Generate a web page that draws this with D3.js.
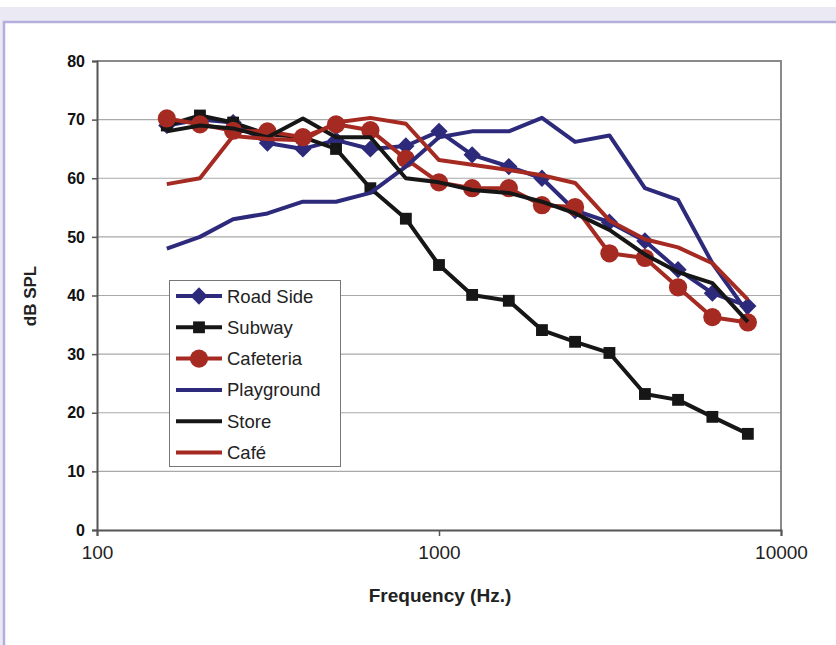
<!DOCTYPE html>
<html><head><meta charset="utf-8">
<script src="https://cdn.jsdelivr.net/npm/d3@7"></script>
<style>
html,body{margin:0;padding:0;background:#fff;}
svg{display:block;}
</style></head>
<body>
<svg id="c" width="836" height="645"></svg>
<script>
const freqs = [160,200,250,315,400,500,630,800,1000,1250,1600,2000,2500,3150,4000,5000,6300,8000];
const roadSide   = [69,70,69.5,66,65,66.5,65,65.5,68,64,62,60,54.5,52.5,49.3,44.4,40.4,38.2];
const subway     = [69,70.7,69.5,67.5,67,65,58.3,53.1,45.2,40.1,39.1,34.1,32.1,30.2,23.2,22.2,19.3,16.4];
const cafeteria  = [70.2,69.2,68.1,68,67,69.2,68.2,63.3,59.3,58.3,58.3,55.4,55.1,47.2,46.4,41.4,36.3,35.4];
const playground = [48,50,53,54,56,56,57.5,62,67,68,68,70.3,66.2,67.3,58.3,56.3,45.5,37];
const store      = [68,69,68.5,67,70.2,67,67,60,59.3,58,57.5,56,54,51.2,47,44,42.1,35.5];
const cafe       = [59,60,67.2,66.7,66.5,69.5,70.3,69.3,63.1,62.3,61.4,60.5,59.2,52.8,49.6,48.2,45.5,39.3];
const seriesNames = ["Road Side","Subway","Cafeteria","Playground","Store","Café"];
const yTicks = [0,10,20,30,40,50,60,70,80];
const xTicks = [100,1000,10000];

const navy = "#2d2a7c", black = "#161616", red = "#a52a22";
const series = [
  {name:seriesNames[0], values:roadSide,   color:navy,  marker:"diamond"},
  {name:seriesNames[1], values:subway,     color:black, marker:"square"},
  {name:seriesNames[2], values:cafeteria,  color:red,   marker:"circle"},
  {name:seriesNames[3], values:playground, color:navy,  marker:null},
  {name:seriesNames[4], values:store,      color:black, marker:null},
  {name:seriesNames[5], values:cafe,       color:red,   marker:null}
];

const svg = d3.select("#c");
svg.append("rect").attr("x",0).attr("y",0).attr("width",836).attr("height",645).attr("fill","#fff");
svg.append("rect").attr("x",0).attr("y",7).attr("width",836).attr("height",638).attr("fill","#eae9f4");
svg.append("rect").attr("x",4).attr("y",22).attr("width",840).attr("height",640)
  .attr("fill","#fff").attr("stroke","#b3aedb").attr("stroke-width",2.5);

const L=97, R=781, T=61, B=530;
const x = d3.scaleLog().domain([100,10000]).range([L,R]);
const y = d3.scaleLinear().domain([0,80]).range([B,T]);

svg.append("g").selectAll("line").data(yTicks.filter(v=>v>0 && v<80)).join("line")
  .attr("x1",L).attr("x2",R).attr("y1",d=>y(d)).attr("y2",d=>y(d))
  .attr("stroke","#a9a9a9").attr("stroke-width",1.2);
svg.append("path").attr("d",`M${L},${y(80)}H${R}V${B}`).attr("fill","none")
  .attr("stroke","#8a8a8a").attr("stroke-width",2);

const yAxis = d3.axisLeft(y).tickValues(yTicks).tickSize(5).tickPadding(7).tickFormat(d3.format("d"));
const gy = svg.append("g").attr("transform",`translate(${L},0)`).call(yAxis);
gy.select(".domain").attr("stroke","#555").attr("stroke-width",2);
gy.selectAll(".tick line").attr("stroke","#555").attr("stroke-width",1.5);
gy.selectAll("text").attr("font-family","Liberation Sans, Arial, sans-serif")
  .attr("font-size",16).attr("font-weight","bold").attr("fill","#111");

const xAxis = d3.axisBottom(x).tickValues(xTicks).tickSize(6).tickPadding(10).tickFormat(d3.format("d"));
const gx = svg.append("g").attr("transform",`translate(0,${B})`).call(xAxis);
gx.select(".domain").attr("stroke","#555").attr("stroke-width",2);
gx.selectAll(".tick line").attr("stroke","#555").attr("stroke-width",1.5);
gx.selectAll("text").attr("font-family","Liberation Sans, Arial, sans-serif")
  .attr("font-size",19).attr("fill","#222");

svg.append("text").attr("x",440).attr("y",602).attr("text-anchor","middle")
  .attr("font-family","Liberation Sans, Arial, sans-serif").attr("font-size",19)
  .attr("font-weight","bold").attr("fill","#222").text("Frequency (Hz.)");
svg.append("text").attr("transform","translate(36,296) rotate(-90)").attr("text-anchor","middle")
  .attr("font-family","Liberation Sans, Arial, sans-serif").attr("font-size",17)
  .attr("font-weight","bold").attr("fill","#222").text("dB SPL");

const line = d3.line().x((d,i)=>x(freqs[i])).y(d=>y(d));
const symbolFor = m => m==="diamond" ? d3.symbol().type(d3.symbolDiamond2).size(190)
                   : m==="square" ? d3.symbol().type(d3.symbolSquare).size(140)
                   : d3.symbol().type(d3.symbolCircle).size(260);

const plot = svg.append("g");
series.forEach(s=>{
  const g = plot.append("g");
  g.append("path").attr("d",line(s.values)).attr("fill","none")
    .attr("stroke",s.color).attr("stroke-width",4).attr("stroke-linejoin","round");
  if(s.marker){
    g.selectAll("path.m").data(s.values).join("path").attr("class","m")
      .attr("d",symbolFor(s.marker)())
      .attr("transform",(d,i)=>`translate(${x(freqs[i])},${y(d)})`)
      .attr("fill",s.color);
  }
});

const lg = svg.append("g");
lg.append("rect").attr("x",169.5).attr("y",280.5).attr("width",171).attr("height",186)
  .attr("fill","#fff").attr("stroke","#777").attr("stroke-width",1);
series.forEach((s,i)=>{
  const cy = 296 + i*31.3;
  lg.append("line").attr("x1",176).attr("x2",222).attr("y1",cy).attr("y2",cy)
    .attr("stroke",s.color).attr("stroke-width",4);
  if(s.marker){
    lg.append("path").attr("d",symbolFor(s.marker)()).attr("transform",`translate(199,${cy})`).attr("fill",s.color);
  }
  lg.append("text").attr("x",227).attr("y",cy+6.5)
    .attr("font-family","Liberation Sans, Arial, sans-serif").attr("font-size",18.5)
    .attr("fill","#222").text(s.name);
});
</script>
</body></html>
